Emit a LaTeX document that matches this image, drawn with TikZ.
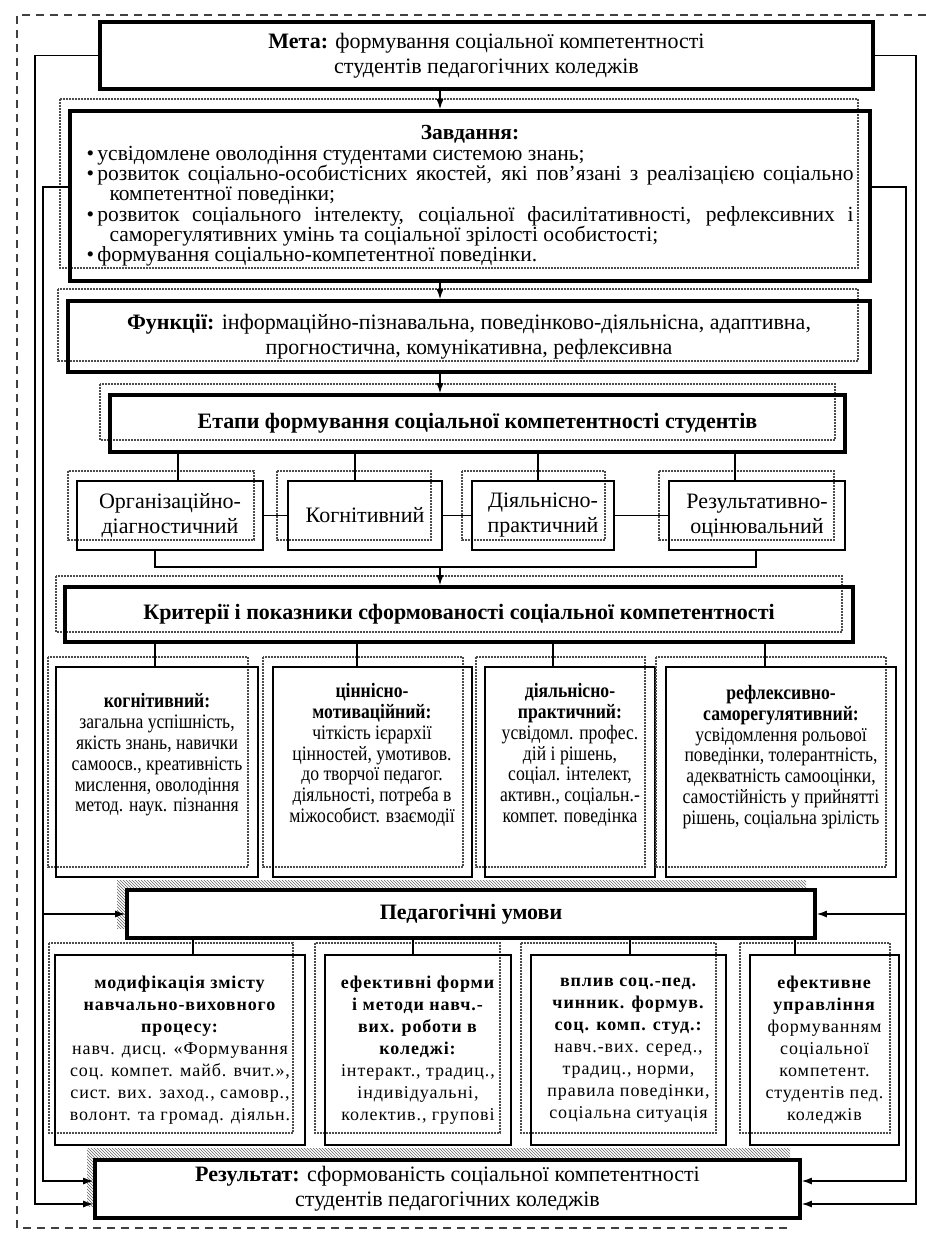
\documentclass[tikz,border=0pt]{standalone}
\usepackage{fontspec}
\setmainfont{Liberation Serif}
\newfontfamily\critfont[FakeStretch=0.86]{Liberation Serif}
\newfontfamily\condfont[LetterSpace=5]{Liberation Serif}
\usetikzlibrary{arrows.meta,patterns}
\newcommand\mainf{\fontsize{22}{25}\selectfont}
\newcommand\critf{\critfont\fontsize{20.5}{20.8}\selectfont}
\newcommand\condf{\condfont\fontsize{18}{22}\selectfont}
\newcommand\mkbox[7]{\node[#1, minimum width={(#5-#3)*1pt}, minimum height={(#6-#4)*1pt}] (#2) at ({(#3+#5)/2},{(#4+#6)/2}) {#7};}
\newcommand\zl[1]{\hbox to 767pt{#1}}
\newcommand\zbul{\makebox[11pt][l]{•}}
\begin{document}
\begin{tikzpicture}[x=1pt,y=-1pt,
  mainbox/.style={draw=black, line width=3.6pt, inner sep=0pt, align=center, font=\mainf},
  midbox/.style={draw=black, line width=2.3pt, inner sep=0pt, align=center, font=\mainf},
  dotbox/.style={draw=black!70, line width=1.1pt, dash pattern=on 1.6pt off 1.4pt},
  frame/.style={draw=black!75, line width=1.6pt, dash pattern=on 8pt off 6pt},
  conn/.style={draw=black, line width=1.3pt},
  arr/.style={conn, -{Latex[length=10pt,width=7pt]}},
  hatch/.style={pattern=north west lines, pattern color=black!60},
  crit/.style={align=center, inner sep=0pt, font=\critf}]
\useasboundingbox (0,0) rectangle (926,1237);
\fill[white] (0,0) rectangle (926,1237);
\draw[frame] (926,15) -- (17,15) -- (17,1228) -- (790,1228);

\coordinate (ax) at (440,0);
\coordinate (L1) at (35,0); \coordinate (L2) at (43,0);
\coordinate (R1) at (916,0); \coordinate (R2) at (906,0);
\coordinate (yz) at (0,187);
\coordinate (yhi) at (0,1181); \coordinate (ylo) at (0,1204);
\coordinate (yb) at (0,567);

% Мета
\mkbox{mainbox}{meta}{100}{22}{873}{89}{\textbf{Мета:} формування соціальної компетентності\\студентів педагогічних коледжів}

% Завдання
\draw[dotbox] (60,99) rectangle (858,268);
\mkbox{mainbox, font=\fontsize{21.5}{20.5}\selectfont}{zav}{70}{111}{870}{281}{\vbox{\baselineskip=20.3pt
\zl{\hfil\textbf{Завдання:}\hfil}
\zl{\zbul усвідомлене оволодіння студентами системою знань;\hfil}
\zl{\zbul розвиток соціально-особистісних якостей, які пов’язані з реалізацією соціально}
\zl{\hspace*{23pt}компетентної поведінки;\hfil}
\zl{\zbul розвиток соціального інтелекту, соціальної фасилітативності, рефлексивних і}
\zl{\hspace*{23pt}саморегулятивних умінь та соціальної зрілості особистості;\hfil}
\zl{\zbul формування соціально-компетентної поведінки.\hfil}}}

% Функції
\draw[dotbox] (58,289) rectangle (858,361);
\mkbox{mainbox}{fun}{68}{301}{870}{372}{\textbf{Функції:} інформаційно-пізнавальна, поведінково-діяльнісна, адаптивна,\\прогностична, комунікативна, рефлексивна}

% Етапи
\draw[dotbox] (100,384) rectangle (835,440);
\mkbox{mainbox}{etapy}{110}{395}{845}{452}{\textbf{Етапи формування соціальної компетентності студентів}}

% stage boxes
\draw[dotbox] (68,471) rectangle (254,540);
\mkbox{midbox}{s1}{77}{481}{263}{550}{Організаційно-\\діагностичний}
\draw[dotbox] (277,471) rectangle (431,540);
\mkbox{midbox}{s2}{288}{481}{442}{550}{Когнітивний}
\draw[dotbox] (462,471) rectangle (605,540);
\mkbox{midbox}{s3}{472}{481}{614}{550}{Діяльнісно-\\практичний}
\draw[dotbox] (659,471) rectangle (834,540);
\mkbox{midbox}{s4}{669}{481}{845}{550}{Результативно-\\оцінювальний}

% Критерії
\draw[dotbox] (56,576) rectangle (842,632);
\mkbox{mainbox}{krit}{65}{587}{853}{642}{\textbf{Критерії і показники сформованості соціальної компетентності}}

% criteria boxes
\draw[dotbox] (48,657) rectangle (248,867);
\mkbox{midbox}{c1}{56}{667}{258}{877}{}
\node[crit] (c1t) at (157,755) {\textbf{когнітивний:}\\загальна успішність,\\якість знань, навички\\самоосв., креативність\\мислення, оволодіння\\метод. наук. пізнання};
\draw[dotbox] (263,657) rectangle (463,867);
\mkbox{midbox}{c2}{273}{667}{472}{877}{}
\node[crit] (c2t) at (372,755) {\textbf{ціннісно-}\\\textbf{мотиваційний:}\\чіткість ієрархії\\цінностей, умотивов.\\до творчої педагог.\\діяльності, потреба в\\міжособист. взаємодії};
\draw[dotbox] (476,657) rectangle (645,867);
\mkbox{midbox}{c3}{485}{667}{655}{877}{}
\node[crit] (c3t) at (570,755) {\textbf{діяльнісно-}\\\textbf{практичний:}\\усвідомл. профес.\\дій і рішень,\\соціал. інтелект,\\активн., соціальн.-\\компет. поведінка};
\draw[dotbox] (656,657) rectangle (886,867);
\mkbox{midbox}{c4}{666}{667}{896}{877}{}
\node[crit] (c4t) at (781,757) {\textbf{рефлексивно-}\\\textbf{саморегулятивний:}\\усвідомлення рольової\\поведінки, толерантність,\\адекватність самооцінки,\\самостійність у прийнятті\\рішень, соціальна зрілість};

% Педагогічні умови
\fill[hatch] (117,880) rectangle (806,928);
\mkbox{mainbox, fill=white}{ped}{127}{890}{815}{938}{\textbf{Педагогічні умови}}

% condition boxes
\draw[dotbox] (49,943) rectangle (293,1133);
\mkbox{midbox, font=\condf}{p1}{55}{955}{305}{1145}{\textbf{модифікація змісту}\\\textbf{навчально-виховного}\\\textbf{процесу:}\\навч. дисц. «Формування\\соц. компет. майб. вчит.»,\\сист. вих. заход., самовр.,\\волонт. та громад. діяльн.}
\draw[dotbox] (315,943) rectangle (500,1133);
\mkbox{midbox, font=\condf}{p2}{325}{955}{511}{1145}{\textbf{ефективні форми}\\\textbf{і методи навч.-}\\\textbf{вих. роботи в}\\\textbf{коледжі:}\\інтеракт., традиц.,\\індивідуальні,\\колектив., групові}
\draw[dotbox] (521,943) rectangle (716,1133);
\mkbox{midbox, font=\condf}{p3}{531}{955}{726}{1145}{\textbf{вплив соц.-пед.}\\\textbf{чинник. формув.}\\\textbf{соц. комп. студ.:}\\навч.-вих. серед.,\\традиц., норми,\\правила поведінки,\\соціальна ситуація}
\draw[dotbox] (740,943) rectangle (890,1133);
\mkbox{midbox, font=\condf}{p4}{750}{955}{899}{1145}{\textbf{ефективне}\\\textbf{управління}\\формуванням\\соціальної\\компетент.\\студентів пед.\\коледжів}

% Результат
\fill[hatch] (87,1148) rectangle (790,1206);
\mkbox{mainbox, fill=white}{res}{95}{1160}{800}{1218}{\textbf{Результат:} сформованість соціальної компетентності\\студентів педагогічних коледжів}

% main vertical arrows
\draw[arr] (meta.south -| ax) -- (zav.north -| ax);
\draw[arr] (zav.south -| ax) -- (fun.north -| ax);
\draw[arr] (fun.south -| ax) -- (etapy.north -| ax);

% stage connectors
\coordinate (e1) at (178,0); \coordinate (e2) at (355,0);
\coordinate (e3) at (538,0); \coordinate (e4) at (735,0);
\draw[conn] (etapy.south -| e1) -- (s1.north -| e1);
\draw[conn] (etapy.south -| e2) -- (s2.north -| e2);
\draw[conn] (etapy.south -| e3) -- (s3.north -| e3);
\draw[conn] (etapy.south -| e4) -- (s4.north -| e4);
\draw[conn] (s1.east) -- (s2.west);
\draw[conn] (s2.east) -- (s3.west);
\draw[conn] (s3.east) -- (s4.west);
\coordinate (b1) at (155,0); \coordinate (b4) at (756,0);
\draw[conn] (s1.south -| b1) -- (b1 |- yb) -- (b4 |- yb) -- (s4.south -| b4);
\draw[arr] (ax |- yb) -- (krit.north -| ax);

% criteria connectors
\coordinate (k1) at (155,0); \coordinate (k2) at (357,0);
\coordinate (k3) at (553,0); \coordinate (k4) at (765,0);
\draw[conn] (krit.south -| k1) -- (c1.north -| k1);
\draw[conn] (krit.south -| k2) -- (c2.north -| k2);
\draw[conn] (krit.south -| k3) -- (c3.north -| k3);
\draw[conn] (krit.south -| k4) -- (c4.north -| k4);

% condition connectors
\coordinate (q1) at (193,0); \coordinate (q2) at (413,0);
\coordinate (q3) at (630,0); \coordinate (q4) at (795,0);
\draw[conn] (ped.south -| q1) -- (p1.north -| q1);
\draw[conn] (ped.south -| q2) -- (p2.north -| q2);
\draw[conn] (ped.south -| q3) -- (p3.north -| q3);
\draw[conn] (ped.south -| q4) -- (p4.north -| q4);

% side loops
\draw[arr] (meta.west) -- (meta.west -| L1) -- (L1 |- ylo) -- (res.west |- ylo);
\draw[arr] (zav.west |- yz) -- (L2 |- yz) -- (L2 |- yhi) -- (res.west |- yhi);
\draw[arr] (L2 |- ped.west) -- (ped.west);
\draw[arr] (meta.east) -- (meta.east -| R1) -- (R1 |- ylo) -- (res.east |- ylo);
\draw[arr] (zav.east |- yz) -- (R2 |- yz) -- (R2 |- yhi) -- (res.east |- yhi);
\draw[arr] (R2 |- ped.east) -- (ped.east);
\end{tikzpicture}
\end{document}
